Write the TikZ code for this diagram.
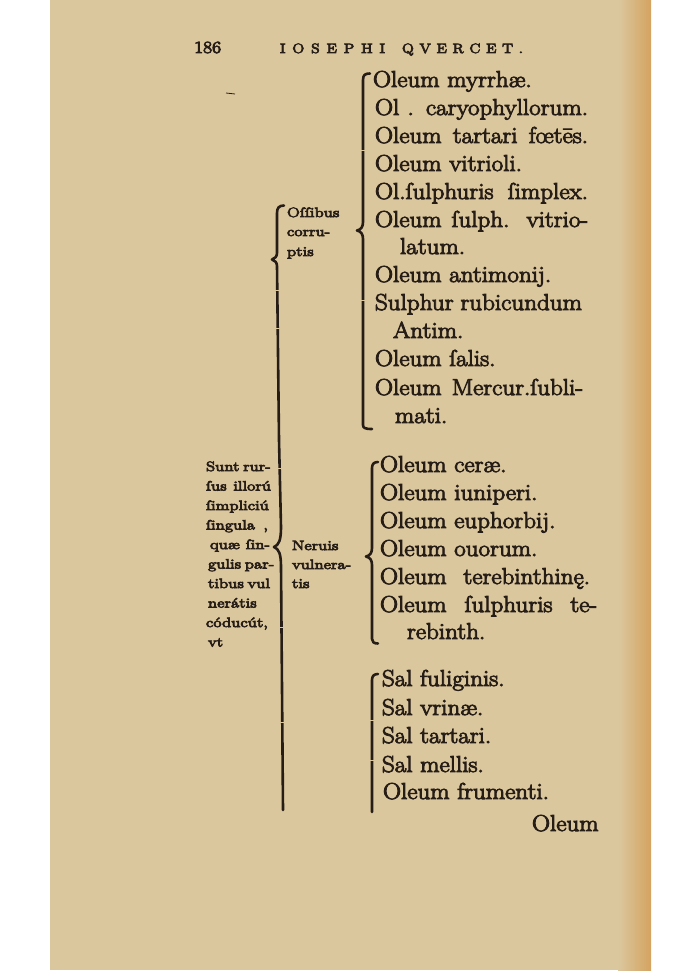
\documentclass[tikz,border=0pt]{standalone}
\usepackage{fontspec}
\setmainfont{Latin Modern Roman}
\newfontfamily\bigf{Latin Modern Roman}[FakeBold=4,FakeStretch=1.09]
\newfontfamily\smallf{Latin Modern Roman}[FakeBold=5.5,FakeStretch=1.25]
\newfontfamily\headf{Latin Modern Roman}[FakeBold=5.5,FakeStretch=1.15]
\definecolor{paper}{RGB}{219,199,158}
\definecolor{edge}{RGB}{212,163,96}
\definecolor{ink}{RGB}{38,29,22}
\newcommand\jw[2]{\makebox[#1pt][s]{#2}}
\tikzset{
  ln/.style={anchor=base west, inner sep=0pt, outer sep=0pt, text=ink, font=\bigf\fontsize{23}{28}\selectfont},
  sm/.style={anchor=base west, inner sep=0pt, outer sep=0pt, text=ink, font=\smallf\fontsize{13.5}{18}\selectfont},
  hd/.style={anchor=base west, inner sep=0pt, outer sep=0pt, text=ink, font=\headf\fontsize{13.5}{15}\selectfont},
  rule/.style={draw=ink, line width=2.6pt, line cap=round, line join=round},
  joint/.style={draw=paper, line width=0.9pt}
}
\begin{document}
\begin{tikzpicture}[x=1pt,y=-1pt]
\useasboundingbox (0,0) rectangle (690,976);
\fill[white] (0,0) rectangle (690,976);
\fill[paper] (50,0) rectangle (651,970);
\shade[left color=paper, right color=edge] (618,0) rectangle (651,970);

% header
\node[anchor=base west, inner sep=0pt, text=ink, font=\headf\fontsize{17}{18}\selectfont] (pg) at (194,53) {186};
\node[hd] (h1) at (280,53) {\jw{105}{I O S E P H I}};
\node[hd] (h2) at (402,53) {\jw{121}{Q V E R C E T .}};
\draw[ink, line width=0.8pt] (226,93) -- (235,94);

% group 1
\node[ln] (g1a) at (373,87) {Oleum myrrhæ.};
\node[ln] (g1b) at (375,115) {\jw{213}{Ol . caryophyllorum.}};
\node[ln] (g1c) at (375,143) {\jw{213}{Oleum tartari fœtēs.}};
\node[ln] (g1d) at (375,171) {Oleum vitrioli.};
\node[ln] (g1e) at (375,199) {\jw{213}{Ol.ſulphuris ſimplex.}};
\node[ln] (g1f) at (375,227) {\jw{213}{Oleum ſulph. vitrio-}};
\node[ln] (g1g) at (400,254) {latum.};
\node[ln] (g1h) at (375,282) {Oleum antimonij.};
\node[ln] (g1i) at (375,310) {\jw{207}{Sulphur rubicundum}};
\node[ln] (g1j) at (393,338) {Antim.};
\node[ln] (g1k) at (375,366) {Oleum ſalis.};
\node[ln] (g1l) at (375,395) {\jw{208}{Oleum Mercur.ſubli-}};
\node[ln] (g1m) at (395,423) {mati.};

% group 2
\node[ln] (g2a) at (380,472) {Oleum ceræ.};
\node[ln] (g2b) at (380,500) {Oleum iuniperi.};
\node[ln] (g2c) at (380,528) {Oleum euphorbij.};
\node[ln] (g2d) at (380,556) {Oleum ouorum.};
\node[ln] (g2e) at (380,584) {\jw{210}{Oleum terebinthinę.}};
\node[ln] (g2f) at (380,612) {\jw{217}{Oleum ſulphuris te-}};
\node[ln] (g2g) at (407,639) {rebinth.};

% group 3
\node[ln] (g3a) at (382,686) {Sal fuliginis.};
\node[ln] (g3b) at (382,715) {Sal vrinæ.};
\node[ln] (g3c) at (382,743) {Sal tartari.};
\node[ln] (g3d) at (382,772) {Sal mellis.};
\node[ln] (g3e) at (383,799) {Oleum frumenti.};
\node[ln] (cw) at (532,831) {Oleum};

% small labels
\node[sm] (o1) at (287,217) {Oſſibus};
\node[sm] (o2) at (287,236) {corru-};
\node[sm] (o3) at (287,256) {ptis};

\node[sm] (n1) at (292,550) {Neruis};
\node[sm] (n2) at (292,569) {vulnera-};
\node[sm] (n3) at (292,588) {tis};

\node[sm] (s1) at (206,471) {\jw{64}{Sunt rur-}};
\node[sm] (s2) at (206,490.5) {\jw{65}{ſus illorú}};
\node[sm] (s3) at (206,510) {ſimpliciú};
\node[sm] (s4) at (206,529.5) {\jw{62}{ſingula ,}};
\node[sm] (s5) at (210,549) {\jw{60}{quæ ſin-}};
\node[sm] (s6) at (208,568.5) {\jw{62}{gulis par-}};
\node[sm] (s7) at (208,588) {\jw{60}{tibus vul}};
\node[sm] (s8) at (208,607.5) {nerátis};
\node[sm] (s9) at (206,627) {códucút,};
\node[sm] (s10) at (208,646.5) {vt};

% bracket group 1
\draw[rule] (370,73.5) .. controls (365,73.5) and (363,75) .. (363,80)
  -- (363,222) .. controls (363,227) and (361,229.5) .. (357,230.5)
  .. controls (361,231.5) and (363,234) .. (363,239)
  -- (363,425) .. controls (363,428) and (365,429) .. (372,429);

% bracket group 2
\draw[rule] (378,462) .. controls (374,462) and (372,464) .. (372,468)
  -- (372,548) .. controls (372,553) and (370,555.5) .. (366,556.5)
  .. controls (370,557.5) and (372,560) .. (372,565)
  -- (372,639) .. controls (372,642) and (374,643.5) .. (378,643.5);

% bracket group 3
\draw[rule] (378,674) .. controls (374,674) and (372,676) .. (372,680)
  -- (372,812);

% long left bracket
\draw[rule] (284,205.5) .. controls (279,205.5) and (277,208) .. (277,213)
  -- (277,253) .. controls (277,256.5) and (275,258.5) .. (272,259.5)
  .. controls (275,260.5) and (277,262.5) .. (277,266)
  -- (279,440) -- (281,527) .. controls (281,540) and (279,545) .. (274,547)
  .. controls (279,549) and (281,554) .. (281,567)
  -- (283,810);

% type-piece joints
\draw[joint] (274,290) -- (281,290);
\draw[joint] (274,328) -- (282,328);
\draw[joint] (277,468) -- (285,468);
\draw[joint] (279,627) -- (287,627);
\draw[joint] (280,722) -- (288,722);
\draw[joint] (360,150) -- (367,150);
\draw[joint] (360,300) -- (367,300);
\draw[joint] (369,720) -- (376,720);
\draw[joint] (369,760) -- (376,760);
\end{tikzpicture}
\end{document}
